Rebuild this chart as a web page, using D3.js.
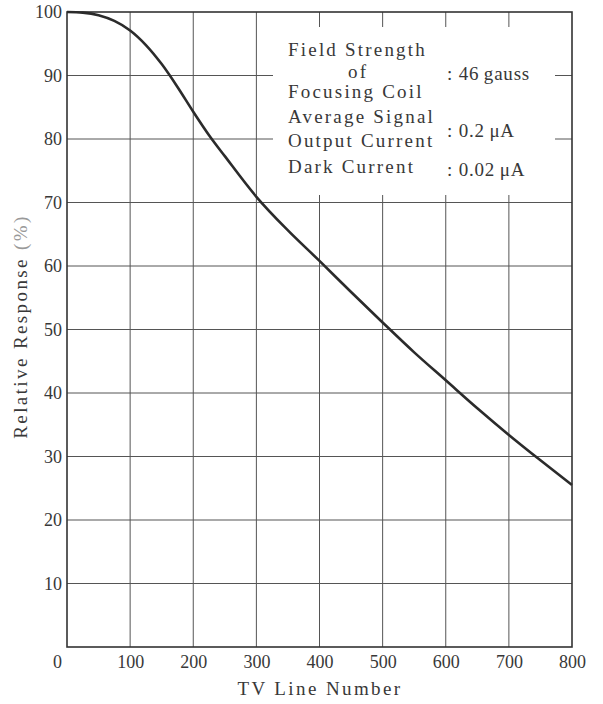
<!DOCTYPE html>
<html><head><meta charset="utf-8">
<script src="https://cdn.jsdelivr.net/npm/d3@7"></script>
<style>
html,body{margin:0;padding:0;background:#fff;}
svg{display:block;}
text{font-family:"Liberation Serif","DejaVu Serif",serif;fill:#383838;}
</style></head>
<body>
<svg id="chart" width="603" height="704"></svg>
<script>
const tvLines   = [0, 25, 50, 75, 100, 125, 150, 175, 200, 225, 250, 300, 350, 400, 450, 500, 550, 600, 650, 700, 750, 800];
const response  = [100, 99.9, 99.5, 98.6, 97.1, 94.8, 91.8, 88.2, 84.3, 80.6, 77.3, 70.9, 65.6, 60.8, 55.9, 51.1, 46.4, 42.0, 37.6, 33.4, 29.4, 25.5];
const xTicks = [0, 100, 200, 300, 400, 500, 600, 700, 800];
const yTicks = [0, 10, 20, 30, 40, 50, 60, 70, 80, 90, 100];
const yTickLabels = ["", "10", "20", "30", "40", "50", "60", "70", "80", "90", "100"];
const noteLabels = [["Field Strength", "of", "Focusing Coil"], ["Average Signal", "Output Current"], ["Dark Current"]];
const noteValues = [": 46\u2009gauss", ": 0.2\u2009\u03bcA", ": 0.02\u2009\u03bcA"];
const xTitle = "TV Line Number";
const yTitle = "Relative Response ";

const svg = d3.select("#chart");
const L = 67, R = 572, T = 12, B = 647;
const x = d3.scaleLinear().domain([0, 800]).range([L, R]);
const y = d3.scaleLinear().domain([0, 100]).range([B, T]);

// grid
const grid = svg.append("g");
grid.selectAll(".vg").data(xTicks.slice(1, -1)).join("line")
  .attr("x1", d => x(d)).attr("x2", d => x(d)).attr("y1", T).attr("y2", B)
  .attr("stroke", "#555").attr("stroke-width", 1);
grid.selectAll(".hg").data(yTicks.slice(1, -1)).join("line")
  .attr("x1", L).attr("x2", R).attr("y1", d => y(d)).attr("y2", d => y(d))
  .attr("stroke", "#555").attr("stroke-width", 1);

// white box for notes (covers grid)
svg.append("rect").attr("x", 273).attr("y", 27).attr("width", 282).attr("height", 168).attr("fill", "#fff");

// frame
svg.append("rect").attr("x", L).attr("y", T).attr("width", R - L).attr("height", B - T)
  .attr("fill", "none").attr("stroke", "#333").attr("stroke-width", 1.6);

// axes labels
const xAxis = d3.axisBottom(x).tickValues(xTicks).tickSize(0).tickPadding(8);
const gx = svg.append("g").attr("transform", `translate(0,${B})`).call(xAxis);
gx.select(".domain").remove();
gx.selectAll("text").attr("font-size", 18).attr("font-family", "Liberation Serif").attr("fill", "#444")
  .attr("dx", d => d === 0 ? -10 : 0);

const yAxis = d3.axisLeft(y).tickValues(yTicks).tickSize(0).tickPadding(5)
  .tickFormat((d, i) => yTickLabels[i]);
const gy = svg.append("g").attr("transform", `translate(${L},0)`).call(yAxis);
gy.select(".domain").remove();
gy.selectAll("text").attr("font-size", 18).attr("font-family", "Liberation Serif").attr("fill", "#444");

// x title
svg.append("text").attr("x", 320).attr("y", 695).attr("text-anchor", "middle")
  .attr("font-size", 19).attr("letter-spacing", 2.4).text(xTitle);

// y title
const yt = svg.append("text").attr("transform", `translate(27,${(T + B) / 2 - 3}) rotate(-90)`)
  .attr("text-anchor", "middle").attr("font-size", 19).attr("letter-spacing", 2.4);
yt.append("tspan").text(yTitle);
yt.append("tspan").attr("fill", "#999").text("(%)");

// curve
const line = d3.line().x((d, i) => x(tvLines[i])).y(d => y(d)).curve(d3.curveMonotoneX);
svg.append("path").datum(response).attr("d", line)
  .attr("fill", "none").attr("stroke", "#2b2b2b").attr("stroke-width", 2.6);

// notes
const notes = svg.append("g").attr("font-size", 19).attr("letter-spacing", 2.2);
const lineYs = [[56, 78, 98], [123, 147], [173]];
const valYs = [80, 137, 176];
const lineX = [[288, 348, 288], [288, 288], [288]];
noteLabels.forEach((grp, gi) => {
  grp.forEach((t, li) => {
    notes.append("text").attr("x", lineX[gi][li]).attr("y", lineYs[gi][li]).text(t);
  });
  notes.append("text").attr("x", 447).attr("y", valYs[gi]).attr("letter-spacing", 0.8).text(noteValues[gi]);
});
</script>
</body></html>
